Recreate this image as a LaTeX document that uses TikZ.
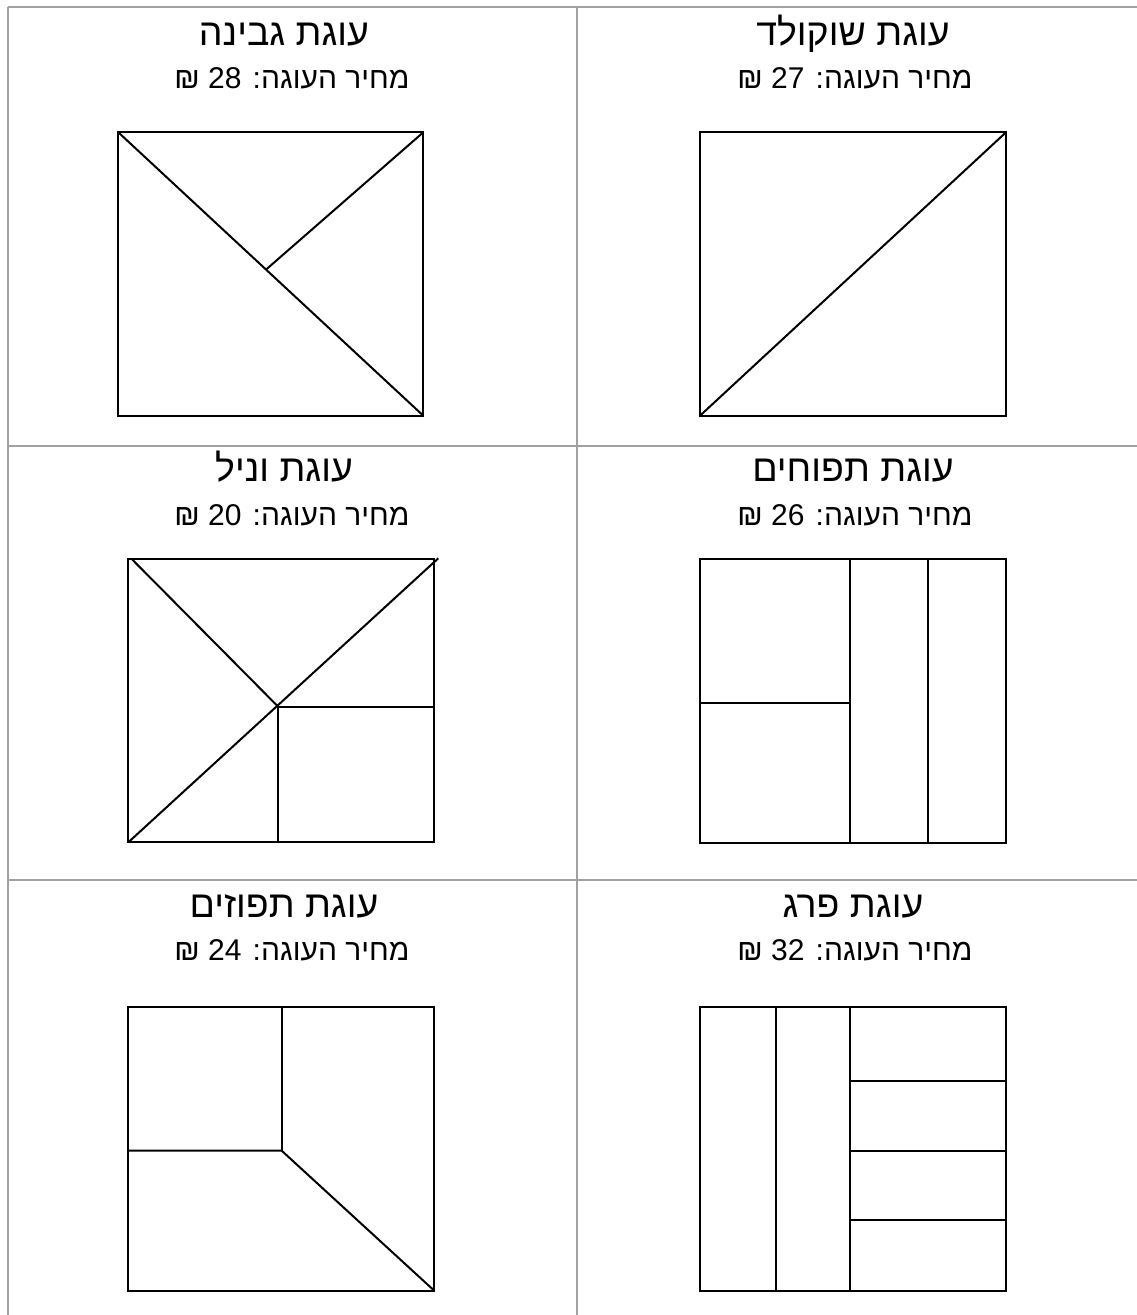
\documentclass[tikz,border=0pt]{standalone}
\usepackage{fontspec}
\setmainfont{Liberation Sans}
\newfontfamily\hebfont[Script=Hebrew]{Liberation Sans}
\TeXXeTstate=1
\begin{document}
\begin{tikzpicture}[x=1pt,y=-1pt,
  gridline/.style={draw=black!37,line width=2pt},
  cakeline/.style={draw=black,line width=2pt,line join=miter},
  titletext/.style={font=\hebfont\fontsize{37.5}{42}\selectfont,inner sep=0pt,anchor=base},
  pricetext/.style={font=\hebfont\fontsize{30}{34}\selectfont,inner sep=0pt,anchor=base}]
\useasboundingbox (0,0) rectangle (1137,1315);
% table grid
\draw[gridline] (7.5,6.5) -- (1137,6.5);
\draw[gridline] (7.5,6.5) -- (7.5,1315);
\draw[gridline] (576.5,6.5) -- (576.5,1315);
\draw[gridline] (7.5,446) -- (1137,446);
\draw[gridline] (7.5,880) -- (1137,880);
% texts
\node[titletext] (t1) at (284,45) {\beginR עוגת גבינה\endR};
\node[pricetext] (p1) at (292,88) {\beginR מחיר העוגה: \beginL28\endL{} ₪\endR};
\node[titletext] (t2) at (853,45) {\beginR עוגת שוקולד\endR};
\node[pricetext] (p2) at (855,88) {\beginR מחיר העוגה: \beginL27\endL{} ₪\endR};
\node[titletext] (t3) at (284,481) {\beginR עוגת וניל\endR};
\node[pricetext] (p3) at (292,525) {\beginR מחיר העוגה: \beginL20\endL{} ₪\endR};
\node[titletext] (t4) at (853,481) {\beginR עוגת תפוחים\endR};
\node[pricetext] (p4) at (855,525) {\beginR מחיר העוגה: \beginL26\endL{} ₪\endR};
\node[titletext] (t5) at (284,917) {\beginR עוגת תפוזים\endR};
\node[pricetext] (p5) at (292,960) {\beginR מחיר העוגה: \beginL24\endL{} ₪\endR};
\node[titletext] (t6) at (853,917) {\beginR עוגת פרג\endR};
\node[pricetext] (p6) at (855,960) {\beginR מחיר העוגה: \beginL32\endL{} ₪\endR};
% cheese cake
\draw[cakeline] (118.3,132.3) rectangle (423.3,415.7);
\draw[cakeline] (118.3,132.3) -- (423.3,415.7);
\draw[cakeline] (423.3,132.3) -- (266.7,269);
% chocolate cake
\draw[cakeline] (700,132.3) rectangle (1006,415.7);
\draw[cakeline] (700,415.7) -- (1006,132.3);
% vanilla cake
\draw[cakeline] (128.3,559) rectangle (434.3,842.3);
\draw[cakeline] (131.7,559) -- (277.5,706);
\draw[cakeline] (128.3,842.3) -- (438.3,558.3);
\draw[cakeline] (278.3,706.7) -- (278.3,842.3);
\draw[cakeline] (277.5,706.7) -- (434.3,706.7);
% apple cake
\draw[cakeline] (700,559) rectangle (1006,842.7);
\draw[cakeline] (850,559) -- (850,842.7);
\draw[cakeline] (928.3,559) -- (928.3,842.7);
\draw[cakeline] (700,702.7) -- (850,702.7);
% orange cake
\draw[cakeline] (127.7,1006.7) rectangle (434.3,1290.7);
\draw[cakeline] (281.7,1006.7) -- (281.7,1150.7);
\draw[cakeline] (127.7,1150.7) -- (281.7,1150.7) -- (434.3,1290.7);
% poppy seed cake
\draw[cakeline] (700,1006.7) rectangle (1006,1290.7);
\draw[cakeline] (776,1006.7) -- (776,1290.7);
\draw[cakeline] (850,1006.7) -- (850,1290.7);
\draw[cakeline] (850,1080.7) -- (1006,1080.7);
\draw[cakeline] (850,1150.7) -- (1006,1150.7);
\draw[cakeline] (850,1220.3) -- (1006,1220.3);
\end{tikzpicture}
\end{document}
